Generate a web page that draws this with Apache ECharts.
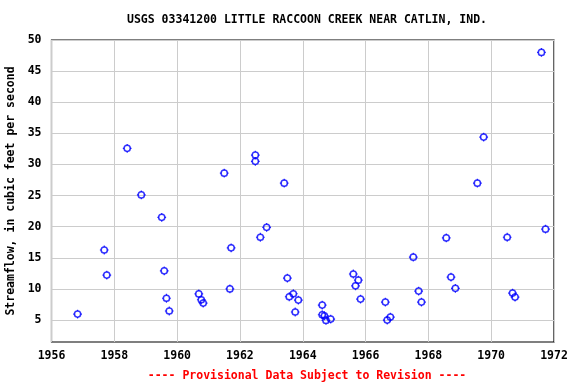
<!DOCTYPE html>
<html>
<head>
<meta charset="utf-8">
<script src="https://cdn.jsdelivr.net/npm/echarts@6/dist/echarts.min.js"></script>
<style>html,body{margin:0;padding:0;background:#fff;}#c{width:576px;height:384px;}</style>
</head>
<body>
<div id="c"></div>
<script>
const titleText = 'USGS 03341200 LITTLE RACCOON CREEK NEAR CATLIN, IND.';
const footerText = '---- Provisional Data Subject to Revision ----';
const yAxisName = 'Streamflow, in cubic feet per second';
const xTicks = [1956, 1958, 1960, 1962, 1964, 1966, 1968, 1970, 1972];
const yTicks = [5, 10, 15, 20, 25, 30, 35, 40, 45, 50];
const years = [1956.83,1957.68,1957.76,1958.41,1958.86,1959.51,1959.59,1959.66,1959.75,1960.69,
  1960.77,1960.83,1961.50,1961.68,1961.72,1962.49,1962.49,1962.65,1962.85,1963.41,
  1963.51,1963.57,1963.70,1963.76,1963.86,1964.62,1964.62,1964.69,1964.74,1964.89,
  1965.61,1965.68,1965.77,1965.84,1966.63,1966.69,1966.79,1967.52,1967.69,1967.78,
  1968.57,1968.72,1968.86,1969.56,1969.76,1970.51,1970.68,1970.76,1971.60,1971.73];
const flows = [5.96,16.25,12.23,32.6,25.1,21.5,12.9,8.5,6.45,9.2,
  8.26,7.73,28.6,10.0,16.6,31.5,30.5,18.3,19.9,27.0,
  11.75,8.74,9.22,6.29,8.21,7.41,5.85,5.69,4.94,5.16,
  12.4,10.5,11.4,8.37,7.89,5.0,5.48,15.1,9.66,7.89,
  18.2,11.9,10.1,27.0,34.4,18.3,9.34,8.69,48.0,19.6];

const font = 'DejaVu Sans Mono';
const chart = echarts.init(document.getElementById('c'), null, {renderer: 'canvas'});
const pts = years.map((y, i) => [y, flows[i]]);
const ticksSym = 'path://M0,-4.4L0,-3M0,3L0,4.4M-4.4,0L-3,0M3,0L4.4,0';
chart.setOption({
  animation: false,
  backgroundColor: '#fff',
  title: [{
    text: titleText, left: 302, top: 9, textAlign: 'center',
    textStyle: {fontFamily: font, fontSize: 11.5, fontWeight: 'bold', color: '#000'}
  }, {
    text: footerText, left: 302, top: 365, textAlign: 'center',
    textStyle: {fontFamily: font, fontSize: 11.5, fontWeight: 'bold', color: '#ff0000'}
  }],
  grid: {left: 51.5, right: 22, top: 40, bottom: 42, show: true, borderColor: '#000', borderWidth: 1.2,
    backgroundColor: 'transparent', containLabel: false, outerBoundsMode: 'none'},
  xAxis: {
    type: 'value', min: xTicks[0], max: xTicks[xTicks.length - 1], interval: 2,
    axisLine: {show: false}, axisTick: {show: false},
    splitLine: {show: true, lineStyle: {color: '#cccccc', width: 1}},
    axisLabel: {fontFamily: font, fontSize: 11.5, fontWeight: 'bold', color: '#000', margin: 8,
      formatter: v => String(v)}
  },
  yAxis: {
    type: 'value', min: 1.47, max: 50,
    name: yAxisName, nameLocation: 'middle', nameGap: 34,
    nameTextStyle: {fontFamily: font, fontSize: 11.5, fontWeight: 'bold', color: '#000'},
    axisLine: {show: false},
    axisTick: {show: false, customValues: yTicks},
    splitLine: {show: true, lineStyle: {color: '#cccccc', width: 1}},
    axisLabel: {fontFamily: font, fontSize: 11.5, fontWeight: 'bold', color: '#000', margin: 10, customValues: yTicks,
      formatter: v => String(v)}
  },
  series: [{
    type: 'scatter', data: pts, symbol: 'circle', symbolSize: 6.2,
    itemStyle: {color: 'rgba(0,0,0,0)', borderColor: '#0000ff', borderWidth: 1.5}
  }, {
    type: 'scatter', data: pts, symbol: ticksSym, symbolSize: 8.8, silent: true,
    itemStyle: {color: 'rgba(0,0,0,0)', borderColor: '#0000ff', borderWidth: 1.2}
  }]
});
</script>
</body>
</html>
